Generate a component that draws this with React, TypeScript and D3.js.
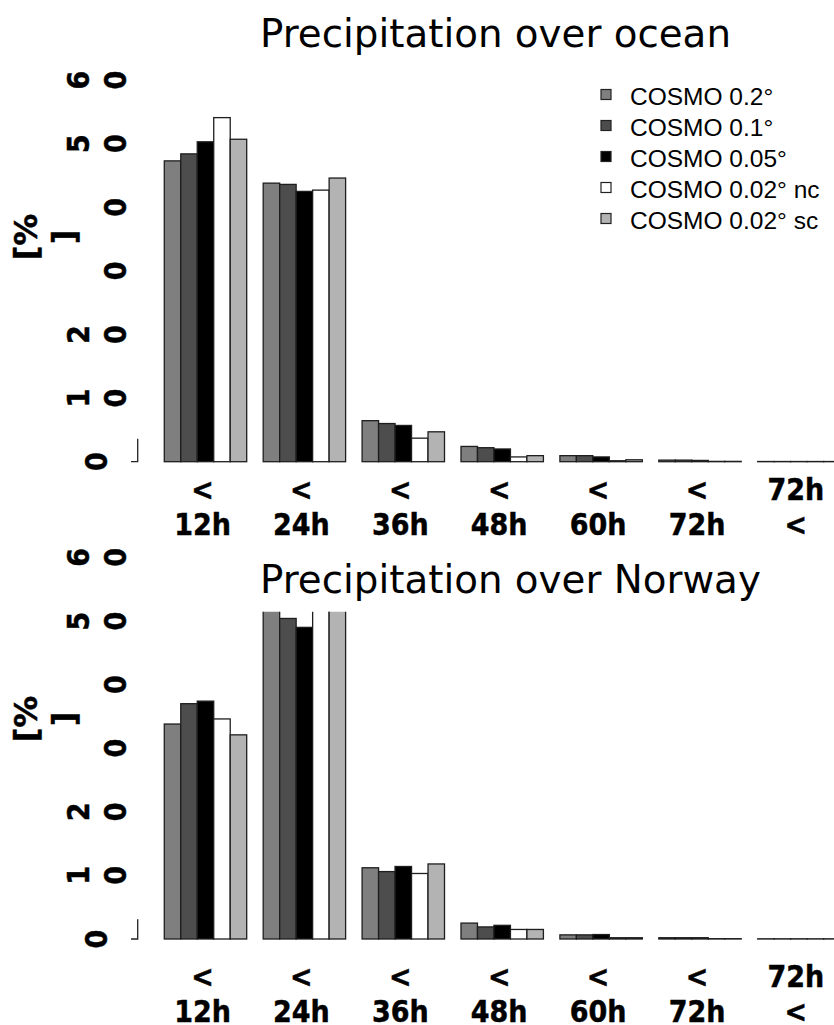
import React, { useEffect, useRef } from 'react';
import * as d3 from 'd3';

// categories (two text lines each, as in the original plot)
const categories: string[][] = [
  ['<', '12h'],
  ['<', '24h'],
  ['<', '36h'],
  ['<', '48h'],
  ['<', '60h'],
  ['<', '72h'],
  ['72h', '<'],
];

const seriesNames = ['COSMO 0.2°', 'COSMO 0.1°', 'COSMO 0.05°', 'COSMO 0.02° nc', 'COSMO 0.02° sc'];
const seriesFills = ['#7f7f7f', '#4d4d4d', '#000000', '#ffffff', '#b3b3b3'];

const yTicks = [0, 10, 20, 30, 40, 50, 60];
// the "3" and "4" glyphs are missing in the original labels
const yTickLabels: string[][] = [['0'], ['1', '0'], ['2', '0'], ['', '0'], ['', '0'], ['5', '0'], ['6', '0']];

// Precipitation over ocean [%]
const ocean02 = [47.3, 43.8, 6.45, 2.4, 0.95, 0.25, 0.03];
const ocean01 = [48.4, 43.6, 6.0, 2.2, 0.95, 0.25, 0.03];
const ocean005 = [50.3, 42.5, 5.7, 2.0, 0.75, 0.2, 0.03];
const ocean002nc = [54.1, 42.7, 3.7, 0.75, 0.15, 0.05, 0.03];
const ocean002sc = [50.7, 44.6, 4.7, 0.95, 0.3, 0.05, 0.03];

// Precipitation over Norway [%]
const norway02 = [33.8, 52.0, 11.2, 2.5, 0.65, 0.2, 0.03];
const norway01 = [37.0, 50.4, 10.6, 1.9, 0.65, 0.2, 0.03];
const norway005 = [37.4, 49.0, 11.4, 2.15, 0.7, 0.2, 0.03];
const norway002nc = [34.6, 53.5, 10.3, 1.5, 0.2, 0.05, 0.03];
const norway002sc = [32.1, 54.0, 11.8, 1.5, 0.2, 0.05, 0.03];

const W = 834;
const H = 1025;

interface PanelSpec {
  title: string;
  series: number[][];
  baseline: number;
  titleY: number;
  clipTop: number;
  labelY: number;
  unitY: number;
  axisTop: number;
  legend: boolean;
}

const panels: PanelSpec[] = [
  {
    title: 'Precipitation over ocean',
    series: [ocean02, ocean01, ocean005, ocean002nc, ocean002sc],
    baseline: 461.7,
    titleY: 46.7,
    clipTop: 0,
    labelY: 500,
    unitY: 237,
    axisTop: 3.6,
    legend: true,
  },
  {
    title: 'Precipitation over Norway',
    series: [norway02, norway01, norway005, norway002nc, norway002sc],
    baseline: 939,
    titleY: 593.3,
    clipTop: 611.7,
    labelY: 987.3,
    unitY: 719,
    axisTop: 3.1,
    legend: false,
  },
];

const boldFont = "'DejaVu Sans', sans-serif";
const boldSize = 31;
const squeeze = 0.87;

const App: React.FC = () => {
  const svgRef = useRef<SVGSVGElement>(null);

  useEffect(() => {
    if (!svgRef.current) return;
    const svg = d3.select(svgRef.current);
    svg.selectAll('*').remove();

    // x layout: R barplot with space = c(0, 1)
    const x0 = d3
      .scaleBand<number>()
      .domain(d3.range(categories.length))
      .range([147.8, 856.6])
      .paddingInner(1 / 6)
      .paddingOuter(1 / 6);
    const x1 = d3
      .scaleBand<number>()
      .domain(d3.range(seriesNames.length))
      .range([0, x0.bandwidth()]);

    panels.forEach((p, pi) => {
      const y = d3.scaleLinear().domain([0, 60]).range([p.baseline, p.baseline - 381.6]);
      const g = svg.append('g');

      // clip (Norway bars are cut at the top)
      const clipId = `clip-${pi}`;
      svg
        .append('defs')
        .append('clipPath')
        .attr('id', clipId)
        .append('rect')
        .attr('x', 0)
        .attr('y', p.clipTop)
        .attr('width', W)
        .attr('height', p.baseline + 5 - p.clipTop);

      // bars
      const bars = g.append('g').attr('clip-path', `url(#${clipId})`);
      p.series.forEach((vals, si) => {
        bars
          .selectAll(null)
          .data(vals)
          .join('rect')
          .attr('x', (d, i) => (x0(i) as number) + (x1(si) as number))
          .attr('y', d => y(d))
          .attr('width', x1.bandwidth())
          .attr('height', d => y(0) - y(d))
          .attr('fill', seriesFills[si])
          .attr('stroke', '#1e1e1e')
          .attr('stroke-width', 1.3);
      });

      // y axis stub
      g.append('path')
        .attr('d', `M131,${y(0)}H137.7V${y(p.axisTop)}`)
        .attr('fill', 'none')
        .attr('stroke', '#222')
        .attr('stroke-width', 1.3);

      // y tick labels (rotated, two lines)
      yTicks.forEach((t, ti) => {
        const lines = yTickLabels[ti];
        const xs = lines.length === 1 ? [107] : [88.5, 125.5];
        lines.forEach((txt, li) => {
          if (!txt) return;
          g.append('g')
            .attr('transform', `translate(${xs[li]},${y(t)}) rotate(-90) scale(${squeeze},1)`)
            .append('text')
            .attr('text-anchor', 'middle')
            .attr('font-family', boldFont)
            .attr('font-weight', 'bold')
            .attr('font-size', boldSize)
            .attr('fill', '#000')
            .attr('stroke', '#000')
            .attr('stroke-width', 0.5)
            .text(txt);
        });
      });

      // unit label
      [['[%', 36.5], [']', 75]].forEach(([txt, bx]) => {
        g.append('text')
          .attr('transform', `translate(${bx},${p.unitY}) rotate(-90)`)
          .attr('text-anchor', 'middle')
          .attr('font-family', boldFont)
          .attr('font-weight', 'bold')
          .attr('font-size', 32)
          .attr('stroke', '#000')
          .attr('stroke-width', 0.5)
          .text(txt as string);
      });

      // x labels
      categories.forEach((lines, ci) => {
        const cx = (x0(ci) as number) + x0.bandwidth() / 2 - 3;
        lines.forEach((txt, li) => {
          g.append('g')
            .attr('transform', `translate(${cx},${p.labelY + li * 34.7}) scale(${squeeze},1)`)
            .append('text')
            .attr('text-anchor', 'middle')
            .attr('font-family', boldFont)
            .attr('font-weight', 'bold')
            .attr('font-size', boldSize)
            .attr('stroke', '#000')
            .attr('stroke-width', 0.5)
            .text(txt);
        });
      });

      // title
      g.append('text')
        .attr('x', 260)
        .attr('y', p.titleY)
        .attr('font-family', "'DejaVu Sans', sans-serif")
        .attr('font-size', 38.8)
        .attr('fill', '#000')
        .text(p.title);

      // legend
      if (p.legend) {
        const lg = g.append('g');
        seriesNames.forEach((name, si) => {
          const by = 105 + si * 31;
          lg.append('rect')
            .attr('x', 601)
            .attr('y', by - 15.5)
            .attr('width', 10)
            .attr('height', 10)
            .attr('fill', seriesFills[si])
            .attr('stroke', '#222')
            .attr('stroke-width', 1.2);
          lg.append('text')
            .attr('x', 630)
            .attr('y', by)
            .attr('font-family', "'Liberation Sans', Arial, sans-serif")
            .attr('font-size', 24.5)
            .attr('fill', '#000')
            .text(name);
        });
      }
    });
  }, []);

  return (
    <svg
      ref={svgRef}
      width={W}
      height={H}
      style={{ position: 'absolute', left: 0, top: 0, background: '#fff' }}
    />
  );
};

export default App;
